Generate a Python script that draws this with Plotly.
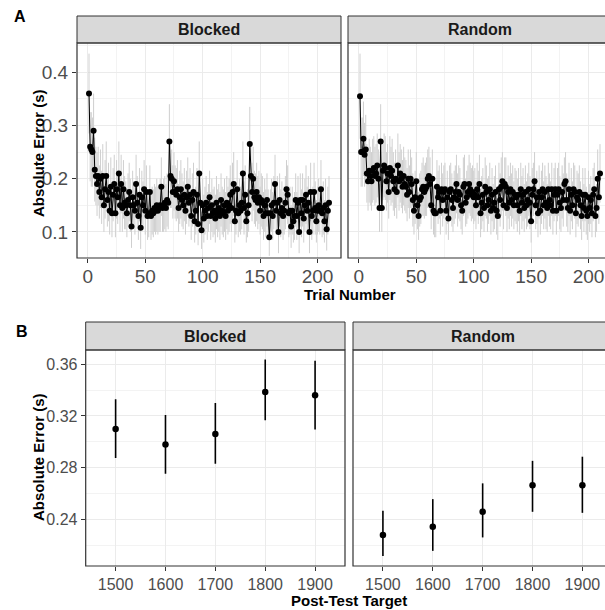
import plotly.graph_objects as go

W, H = 605, 610

# ---------------- data ----------------
trials = list(range(1, 211))

blocked_mean = [
    0.36, 0.26, 0.255, 0.25, 0.29, 0.217, 0.205, 0.19, 0.205, 0.175,
    0.20, 0.165, 0.205, 0.15, 0.18, 0.205, 0.16, 0.175, 0.14, 0.185,
    0.135, 0.17, 0.19, 0.135, 0.18, 0.165, 0.21, 0.15, 0.19, 0.145,
    0.18, 0.155, 0.15, 0.135, 0.16, 0.175, 0.15, 0.11, 0.165, 0.15,
    0.14, 0.19, 0.155, 0.13, 0.17, 0.108, 0.165, 0.15, 0.18, 0.14,
    0.175, 0.13, 0.135, 0.175, 0.13, 0.14, 0.135, 0.145, 0.14, 0.15,
    0.14, 0.145, 0.15, 0.185, 0.145, 0.15, 0.155, 0.145, 0.16, 0.155,
    0.27, 0.205, 0.2, 0.175, 0.195, 0.175, 0.17, 0.18, 0.145, 0.165,
    0.18, 0.16, 0.15, 0.17, 0.14, 0.165, 0.185, 0.155, 0.17, 0.13,
    0.16, 0.175, 0.12, 0.14, 0.17, 0.115, 0.21, 0.155, 0.103, 0.15,
    0.125, 0.14, 0.155, 0.13, 0.145, 0.165, 0.13, 0.15, 0.135, 0.14,
    0.125, 0.155, 0.135, 0.145, 0.13, 0.16, 0.14, 0.135, 0.15, 0.13,
    0.155, 0.14, 0.15, 0.17, 0.145, 0.175, 0.19, 0.12, 0.14, 0.18,
    0.135, 0.15, 0.14, 0.155, 0.21, 0.145, 0.17, 0.12, 0.135, 0.15,
    0.265, 0.205, 0.175, 0.2, 0.165, 0.16, 0.175, 0.155, 0.165, 0.14,
    0.16, 0.155, 0.13, 0.15, 0.135, 0.16, 0.135, 0.09, 0.135, 0.15,
    0.13, 0.155, 0.19, 0.14, 0.155, 0.10, 0.16, 0.135, 0.145, 0.13,
    0.14, 0.155, 0.18, 0.17, 0.135, 0.14, 0.11, 0.14, 0.12, 0.13,
    0.16, 0.13, 0.155, 0.10, 0.16, 0.135, 0.16, 0.125, 0.15, 0.17,
    0.14, 0.155, 0.10, 0.175, 0.13, 0.14, 0.175, 0.145, 0.12, 0.14,
    0.15, 0.14, 0.18, 0.135, 0.145, 0.12, 0.15, 0.105, 0.14, 0.155,
]

blocked_se = [
    0.075, 0.065, 0.07, 0.065, 0.07, 0.06, 0.055, 0.06, 0.055, 0.05,
    0.055, 0.05, 0.06, 0.05, 0.055, 0.065, 0.05, 0.055, 0.045, 0.055,
    0.045, 0.05, 0.055, 0.045, 0.055, 0.05, 0.06, 0.05, 0.055, 0.045,
    0.055, 0.05, 0.045, 0.045, 0.05, 0.055, 0.05, 0.04, 0.05, 0.045,
    0.045, 0.055, 0.05, 0.045, 0.05, 0.04, 0.05, 0.045, 0.055, 0.045,
    0.05, 0.045, 0.045, 0.05, 0.045, 0.045, 0.045, 0.045, 0.045, 0.05,
    0.045, 0.045, 0.05, 0.055, 0.045, 0.05, 0.05, 0.045, 0.05, 0.05,
    0.07, 0.06, 0.055, 0.05, 0.055, 0.05, 0.05, 0.055, 0.045, 0.05,
    0.055, 0.05, 0.045, 0.05, 0.045, 0.05, 0.055, 0.045, 0.05, 0.045,
    0.05, 0.055, 0.04, 0.045, 0.05, 0.04, 0.06, 0.05, 0.035, 0.05,
    0.045, 0.045, 0.05, 0.045, 0.045, 0.05, 0.045, 0.05, 0.045, 0.045,
    0.045, 0.05, 0.045, 0.045, 0.045, 0.05, 0.045, 0.045, 0.05, 0.045,
    0.05, 0.045, 0.05, 0.055, 0.045, 0.055, 0.06, 0.04, 0.045, 0.055,
    0.045, 0.05, 0.045, 0.05, 0.06, 0.05, 0.055, 0.04, 0.045, 0.05,
    0.07, 0.06, 0.055, 0.06, 0.05, 0.05, 0.055, 0.05, 0.05, 0.045,
    0.05, 0.05, 0.045, 0.05, 0.045, 0.05, 0.045, 0.035, 0.045, 0.05,
    0.045, 0.05, 0.055, 0.045, 0.05, 0.04, 0.05, 0.045, 0.05, 0.045,
    0.045, 0.05, 0.055, 0.055, 0.045, 0.045, 0.04, 0.045, 0.04, 0.045,
    0.05, 0.045, 0.05, 0.04, 0.05, 0.045, 0.05, 0.045, 0.05, 0.055,
    0.045, 0.05, 0.04, 0.055, 0.045, 0.045, 0.055, 0.05, 0.04, 0.045,
    0.05, 0.045, 0.055, 0.045, 0.05, 0.04, 0.05, 0.04, 0.045, 0.05,
]

random_mean = [
    0.355, 0.25, 0.25, 0.275, 0.245, 0.255, 0.21, 0.195, 0.215, 0.205,
    0.195, 0.215, 0.22, 0.205, 0.21, 0.225, 0.20, 0.145, 0.27, 0.145,
    0.215, 0.225, 0.22, 0.195, 0.21, 0.175, 0.22, 0.205, 0.215, 0.195,
    0.18, 0.20, 0.175, 0.225, 0.195, 0.21, 0.20, 0.185, 0.205, 0.19,
    0.185, 0.17, 0.20, 0.175, 0.20, 0.19, 0.16, 0.14, 0.165, 0.195,
    0.15, 0.13, 0.16, 0.165, 0.18, 0.185, 0.175, 0.18, 0.185, 0.20,
    0.205, 0.19, 0.15, 0.20, 0.14, 0.135, 0.135, 0.185, 0.165, 0.175,
    0.14, 0.18, 0.16, 0.175, 0.18, 0.14, 0.165, 0.125, 0.175, 0.18,
    0.16, 0.145, 0.165, 0.175, 0.19, 0.16, 0.175, 0.17, 0.15, 0.14,
    0.185, 0.19, 0.155, 0.165, 0.175, 0.19, 0.18, 0.17, 0.175, 0.165,
    0.17, 0.15, 0.18, 0.165, 0.19, 0.135, 0.155, 0.17, 0.145, 0.185,
    0.175, 0.15, 0.16, 0.18, 0.14, 0.17, 0.145, 0.155, 0.175, 0.14,
    0.13, 0.18, 0.16, 0.185, 0.195, 0.15, 0.19, 0.185, 0.145, 0.175,
    0.155, 0.18, 0.16, 0.175, 0.15, 0.17, 0.165, 0.15, 0.17, 0.14,
    0.18, 0.155, 0.17, 0.145, 0.175, 0.15, 0.16, 0.18, 0.155, 0.12,
    0.17, 0.18, 0.195, 0.15, 0.165, 0.135, 0.175, 0.14, 0.165, 0.18,
    0.15, 0.175, 0.155, 0.145, 0.18, 0.16, 0.15, 0.18, 0.14, 0.17,
    0.18, 0.14, 0.17, 0.18, 0.155, 0.145, 0.175, 0.16, 0.19, 0.195,
    0.16, 0.145, 0.18, 0.14, 0.17, 0.15, 0.18, 0.175, 0.135, 0.165,
    0.16, 0.175, 0.15, 0.13, 0.17, 0.145, 0.17, 0.14, 0.13, 0.165,
    0.145, 0.16, 0.135, 0.17, 0.18, 0.13, 0.145, 0.20, 0.165, 0.21,
]

random_se = [
    0.08, 0.065, 0.065, 0.07, 0.06, 0.065, 0.055, 0.055, 0.06, 0.055,
    0.055, 0.06, 0.06, 0.055, 0.055, 0.06, 0.055, 0.045, 0.07, 0.045,
    0.055, 0.06, 0.06, 0.055, 0.055, 0.05, 0.06, 0.055, 0.06, 0.055,
    0.05, 0.055, 0.05, 0.06, 0.055, 0.055, 0.055, 0.05, 0.055, 0.05,
    0.05, 0.05, 0.055, 0.05, 0.055, 0.05, 0.05, 0.045, 0.05, 0.055,
    0.045, 0.045, 0.05, 0.05, 0.05, 0.055, 0.05, 0.05, 0.055, 0.055,
    0.055, 0.05, 0.045, 0.055, 0.045, 0.045, 0.045, 0.05, 0.05, 0.05,
    0.045, 0.05, 0.05, 0.05, 0.05, 0.045, 0.05, 0.04, 0.05, 0.05,
    0.05, 0.045, 0.05, 0.05, 0.055, 0.05, 0.05, 0.05, 0.045, 0.045,
    0.055, 0.055, 0.045, 0.05, 0.05, 0.055, 0.05, 0.05, 0.05, 0.05,
    0.05, 0.045, 0.05, 0.05, 0.055, 0.045, 0.05, 0.05, 0.045, 0.055,
    0.05, 0.05, 0.045, 0.05, 0.045, 0.05, 0.045, 0.05, 0.05, 0.045,
    0.045, 0.05, 0.05, 0.055, 0.055, 0.045, 0.05, 0.055, 0.045, 0.05,
    0.05, 0.05, 0.05, 0.05, 0.045, 0.05, 0.05, 0.05, 0.05, 0.045,
    0.05, 0.05, 0.05, 0.045, 0.05, 0.045, 0.05, 0.05, 0.05, 0.04,
    0.05, 0.05, 0.055, 0.045, 0.05, 0.045, 0.05, 0.045, 0.05, 0.05,
    0.045, 0.05, 0.05, 0.045, 0.05, 0.05, 0.045, 0.05, 0.045, 0.05,
    0.05, 0.045, 0.05, 0.05, 0.05, 0.045, 0.05, 0.05, 0.05, 0.055,
    0.05, 0.045, 0.05, 0.045, 0.05, 0.045, 0.05, 0.05, 0.045, 0.05,
    0.05, 0.05, 0.045, 0.045, 0.05, 0.045, 0.05, 0.045, 0.045, 0.05,
    0.045, 0.045, 0.045, 0.05, 0.05, 0.04, 0.045, 0.055, 0.05, 0.055,
]

targets = [1500, 1600, 1700, 1800, 1900]
post_blocked = [0.310, 0.298, 0.306, 0.3386, 0.336]
post_blocked_lo = [0.2875, 0.2754, 0.283, 0.3167, 0.3095]
post_blocked_hi = [0.333, 0.3208, 0.330, 0.3636, 0.3626]
post_random = [0.2279, 0.2343, 0.2459, 0.2665, 0.2665]
post_random_lo = [0.2118, 0.2157, 0.2261, 0.2459, 0.2451]
post_random_hi = [0.2467, 0.2557, 0.2679, 0.2853, 0.2885]

a_xticks = [0, 50, 100, 150, 200]
a_yticks = [0.1, 0.2, 0.3, 0.4]
a_ytext = ["0.1", "0.2", "0.3", "0.4"]
b_yticks = [0.24, 0.28, 0.32, 0.36]
b_ytext = ["0.24", "0.28", "0.32", "0.36"]

# ---------------- helpers ----------------
def px(x):
    return x / W

def py(y):
    return 1 - y / H

FONT = "Liberation Sans, Arial, sans-serif"
GRID = "#ebebeb"
MINOR = "#f3f3f3"
BORDER = "#333333"

fig = go.Figure()

def add_trial_panel(xa, ya, mean, se):
    fig.add_trace(go.Scatter(
        x=trials, y=mean, xaxis=xa, yaxis=ya, mode="markers",
        marker=dict(size=6, color="rgba(0,0,0,0)"),
        error_y=dict(type="data", array=se, visible=True, color="#cfcfcf",
                     thickness=1, width=0),
        hoverinfo="skip", showlegend=False))
    fig.add_trace(go.Scatter(
        x=trials, y=mean, xaxis=xa, yaxis=ya, mode="lines+markers",
        line=dict(color="black", width=1),
        marker=dict(size=6, color="black"),
        showlegend=False))

def add_post_panel(xa, ya, mean, lo, hi):
    fig.add_trace(go.Scatter(
        x=targets, y=mean, xaxis=xa, yaxis=ya, mode="markers",
        marker=dict(size=6.5, color="black"),
        error_y=dict(type="data", symmetric=False,
                     array=[h - m for h, m in zip(hi, mean)],
                     arrayminus=[m - l for m, l in zip(mean, lo)],
                     color="black", thickness=1.6, width=0),
        showlegend=False))

add_trial_panel("x", "y", blocked_mean, blocked_se)
add_trial_panel("x2", "y2", random_mean, random_se)
add_post_panel("x3", "y3", post_blocked, post_blocked_lo, post_blocked_hi)
add_post_panel("x4", "y4", post_random, post_random_lo, post_random_hi)

# panel geometry (pixels)
A_top, A_bot, A_strip = 43, 258, 16
B_top, B_bot, B_strip = 350, 566, 322
A1 = (77, 341)
A2 = (348, 612)
B1 = (85.7, 345)
B2 = (353, 612.3)

tickfontA = dict(family=FONT, size=19, color="#4d4d4d")
tickfontB = dict(family=FONT, size=16, color="#4d4d4d")

common = dict(showgrid=True, gridcolor=GRID, gridwidth=1, zeroline=False,
              showline=False, ticks="outside", ticklen=4, tickcolor=BORDER,
              tickwidth=1)

fig.update_layout(
    width=W, height=H,
    margin=dict(l=0, r=0, t=0, b=0),
    paper_bgcolor="white", plot_bgcolor="white",
    font=dict(family=FONT),
    xaxis=dict(domain=[px(A1[0]), px(A1[1])], anchor="y",
               range=[-9.45, 220.45], tickvals=a_xticks, tickfont=tickfontA,
               ticklabelstandoff=-3,
               minor=dict(showgrid=True, gridcolor=MINOR, tickvals=[25, 75, 125, 175]),
               **common),
    yaxis=dict(domain=[py(A_bot), py(A_top)], anchor="x",
               range=[0.051, 0.455], tickvals=a_yticks, ticktext=a_ytext,
               tickfont=tickfontA,
               minor=dict(showgrid=True, gridcolor=MINOR, tickvals=[0.15, 0.25, 0.35, 0.45]),
               **common),
    xaxis2=dict(domain=[px(A2[0]), 1], anchor="y2",
                range=[-9.45, -9.45 + (605 - A2[0]) * (229.9 / 264)],
                tickvals=a_xticks, tickfont=tickfontA, ticklabelstandoff=-3,
                minor=dict(showgrid=True, gridcolor=MINOR, tickvals=[25, 75, 125, 175]),
                **common),
    yaxis2=dict(domain=[py(A_bot), py(A_top)], anchor="x2",
                range=[0.051, 0.455], tickvals=a_yticks, showticklabels=False,
                showgrid=True, gridcolor=GRID, zeroline=False, ticks="",
                minor=dict(showgrid=True, gridcolor=MINOR, tickvals=[0.15, 0.25, 0.35, 0.45])),
    xaxis3=dict(domain=[px(B1[0]), px(B1[1])], anchor="y3",
                range=[1440, 1960], tickvals=targets, tickfont=tickfontB,
                **common),
    yaxis3=dict(domain=[py(B_bot), py(B_top)], anchor="x3",
                range=[0.204, 0.371], tickvals=b_yticks, ticktext=b_ytext,
                tickfont=tickfontB,
                minor=dict(showgrid=True, gridcolor=MINOR, tickvals=[0.22, 0.26, 0.30, 0.34]),
                **common),
    xaxis4=dict(domain=[px(B2[0]), 1], anchor="y4",
                range=[1440, 1440 + (605 - B2[0]) * (520 / (B2[1] - B2[0]))],
                tickvals=targets, tickfont=tickfontB, **common),
    yaxis4=dict(domain=[py(B_bot), py(B_top)], anchor="x4",
                range=[0.204, 0.371], tickvals=b_yticks, showticklabels=False,
                showgrid=True, gridcolor=GRID, zeroline=False, ticks="",
                minor=dict(showgrid=True, gridcolor=MINOR, tickvals=[0.22, 0.26, 0.30, 0.34])),
)

shapes = []
annotations = []

def panel(xr, top, bot, strip, label):
    x0, x1 = xr
    shapes.append(dict(type="rect", xref="paper", yref="paper",
                       x0=px(x0), x1=px(x1), y0=py(top), y1=py(strip),
                       fillcolor="#d9d9d9", line=dict(color=BORDER, width=1),
                       layer="above"))
    shapes.append(dict(type="rect", xref="paper", yref="paper",
                       x0=px(x0), x1=px(x1), y0=py(bot), y1=py(top),
                       fillcolor="rgba(0,0,0,0)", line=dict(color=BORDER, width=1.2),
                       layer="above"))
    annotations.append(dict(xref="paper", yref="paper",
                            x=px((x0 + x1) / 2), y=py((top + strip) / 2),
                            text="<b>%s</b>" % label, showarrow=False,
                            xanchor="center", yanchor="middle",
                            font=dict(family=FONT, size=16, color="#1a1a1a")))

panel(A1, A_top, A_bot, A_strip, "Blocked")
panel(A2, A_top, A_bot, A_strip, "Random")
panel(B1, B_top, B_bot, B_strip, "Blocked")
panel(B2, B_top, B_bot, B_strip, "Random")

def text(x, y, s, size, angle=0, color="black"):
    annotations.append(dict(xref="paper", yref="paper", x=px(x), y=py(y),
                            text=s, showarrow=False, textangle=angle,
                            xanchor="center", yanchor="middle",
                            font=dict(family=FONT, size=size, color=color)))

text(20, 17, "<b>A</b>", 16)
text(22, 331, "<b>B</b>", 16)
text(350, 294, "<b>Trial Number</b>", 15)
text(349, 600, "<b>Post-Test Target</b>", 15)
text(38, 153, "<b>Absolute Error (s)</b>", 15, angle=-90)
text(38, 457, "<b>Absolute Error (s)</b>", 15, angle=-90)

fig.update_layout(shapes=shapes, annotations=annotations)

fig.write_html("out.html",
               config={"displayModeBar": False},
               post_script="document.body.style.margin='0px';"
                           "document.documentElement.style.overflow='hidden';")
